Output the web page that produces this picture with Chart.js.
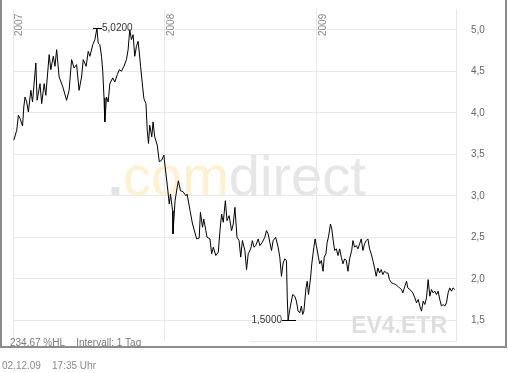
<!DOCTYPE html>
<html><head><meta charset="utf-8">
<style>html,body{margin:0;padding:0;background:#fff;}#wrap{width:508px;height:373px;position:relative;}canvas{display:block;}</style>
<script src="https://cdn.jsdelivr.net/npm/chart.js@4/dist/chart.umd.min.js"></script>
</head><body><div id="wrap"><canvas id="c" width="508" height="373"></canvas></div>
<script>
// days since 01.01.2007
const days = [2,9,13,17,23,26,29,33,37,43,47,55,58,65,69,75,79,87,91,97,101,105,111,120,129,135,141,147,153,159,165,169,176,181,185,192,197,202,205,209,213,216,219,221,225,229,233,240,245,251,256,261,267,273,277,281,285,289,293,297,301,304,307,312,315,320,323,326,329,334,337,341,347,352,358,363,366,371,376,379,384,385,390,395,398,403,409,416,419,426,432,442,448,451,456,459,464,467,474,478,482,488,494,498,502,506,511,515,520,526,530,534,539,544,548,552,558,562,566,572,576,580,584,590,594,600,606,610,614,618,622,626,632,638,642,646,650,654,658,660,662,666,673,678,682,686,690,694,697,700,705,708,711,716,719,724,727,730,735,738,742,746,749,753,756,759,764,767,770,774,778,782,786,790,794,798,802,806,810,815,818,822,826,830,834,838,842,846,850,854,858,862,866,870,874,878,882,886,890,894,899,902,906,911,916,921,926,930,935,938,943,947,950,955,959,962,967,971,975,979,983,987,991,995,999,1003,1007,1011,1015,1019,1023,1027,1031,1035,1039,1043,1047,1051,1055,1059,1063];
const prices = [3.67,3.79,3.97,3.93,3.84,4.07,4.19,4.13,4.01,4.27,4.13,4.60,4.15,4.35,4.11,4.35,4.21,4.70,4.52,4.68,4.56,4.76,4.43,4.31,4.15,4.27,4.64,4.54,4.58,4.27,4.43,4.64,4.56,4.74,4.68,4.82,4.88,5.02,4.84,4.82,4.68,4.50,4.18,3.89,4.19,4.13,4.35,4.42,4.37,4.46,4.52,4.50,4.56,4.64,4.76,5.00,4.88,4.94,4.68,4.80,4.86,4.72,4.56,4.31,4.17,4.11,3.79,3.63,3.85,3.71,3.89,3.71,3.61,3.41,3.43,3.49,3.35,3.14,2.90,3.02,2.82,2.54,2.94,3.10,3.18,3.06,3.05,3.00,3.02,2.82,2.66,2.48,2.49,2.80,2.62,2.72,2.58,2.50,2.48,2.30,2.38,2.28,2.32,2.58,2.78,2.68,2.94,2.70,2.76,2.58,2.66,2.86,2.50,2.46,2.26,2.46,2.34,2.11,2.30,2.36,2.46,2.38,2.40,2.48,2.40,2.44,2.50,2.58,2.54,2.44,2.34,2.46,2.50,2.38,2.26,2.03,2.19,2.24,2.22,1.77,1.50,1.63,1.81,1.79,1.73,1.61,1.59,1.67,1.57,1.61,1.89,1.97,1.81,2.01,2.18,2.38,2.48,2.40,2.26,2.18,2.22,2.09,2.26,2.30,2.44,2.50,2.66,2.60,2.48,2.34,2.36,2.28,2.36,2.26,2.18,2.24,2.22,2.09,2.24,2.34,2.46,2.38,2.40,2.36,2.42,2.48,2.34,2.42,2.46,2.48,2.36,2.30,2.22,2.13,2.03,2.13,2.07,2.11,2.05,2.09,2.07,2.07,1.99,1.95,1.94,1.93,1.91,1.89,1.87,1.83,1.91,1.97,1.89,1.87,1.85,1.83,1.77,1.71,1.75,1.67,1.61,1.73,1.69,1.77,1.99,1.79,1.87,1.83,1.85,1.81,1.85,1.75,1.67,1.69,1.67,1.71,1.83,1.89,1.85,1.89,1.87];
const yearTicks = [0, 365, 731];
const yearLabels = ['2007', '2008', '2009'];
const priceTicks = [1.5, 2.0, 2.5, 3.0, 3.5, 4.0, 4.5, 5.0];
const maxLabel = '5,0200';
const minLabel = '1,5000';
const infoText = '234,67 %HL    Intervall: 1 Tag';
const footerText = '02.12.09    17:35 Uhr';
const symbolText = 'EV4.ETR';

const GRID = '#e8e8e8';
const FONT = 'Arial, "Liberation Sans", sans-serif';

const decor = {
  id: 'decor',
  beforeDraw(chart) {
    const ctx = chart.ctx;
    ctx.save();
    ctx.fillStyle = '#fff';
    ctx.fillRect(0, 0, chart.width, chart.height);
    ctx.fillStyle = '#8c8c8c';
    ctx.fillRect(0, 0, 2, 348);
    ctx.fillRect(505, 0, 2, 348);
    ctx.fillRect(0, 346, 507, 2);
    ctx.restore();
  },
  beforeDatasetsDraw(chart) {
    const ctx = chart.ctx, a = chart.chartArea;
    ctx.save();
    // watermark
    ctx.font = 'bold 54px ' + FONT;
    ctx.textBaseline = 'alphabetic';
    ctx.textAlign = 'left';
    let x = a.left + 95, y = 195;
    ctx.fillStyle = '#e4e4e4';
    ctx.fillText('.', x, y);
    x += ctx.measureText('.').width;
    ctx.font = '56px ' + FONT;
    ctx.fillStyle = '#fdf1cf';
    ctx.fillText('com', x, y);
    x += ctx.measureText('com').width;
    ctx.fillStyle = '#e6e6e6';
    ctx.fillText('direct', x, y);
    // symbol
    ctx.font = 'bold 23px ' + FONT;
    ctx.fillStyle = '#dedede';
    ctx.textAlign = 'right';
    ctx.fillText(symbolText, a.right - 9, a.bottom - 8);
    // bottom border (right part)
    ctx.fillStyle = GRID;
    ctx.fillRect(a.left + 237, a.bottom, a.right - a.left - 237, 1);
    // year labels
    const xs = chart.scales.x;
    ctx.font = '10px ' + FONT;
    ctx.fillStyle = '#8a8a8a';
    yearTicks.forEach((d, i) => {
      const px = xs.getPixelForValue(d);
      ctx.save();
      ctx.translate(px + 1.5, a.top + 27);
      ctx.rotate(-Math.PI / 2);
      ctx.textAlign = 'left';
      ctx.textBaseline = 'top';
      ctx.fillText(yearLabels[i], 0, 0);
      ctx.restore();
    });
    ctx.textAlign = 'left';
    ctx.textBaseline = 'middle';
    ctx.fillStyle = '#7a7a7a';
    ctx.fillText(infoText, 10, 343);
    ctx.fillStyle = '#8a8a8a';
    ctx.fillText(footerText, 2, 366);
    ctx.restore();
  },
  afterDatasetsDraw(chart) {
    const ctx = chart.ctx;
    const xs = chart.scales.x, ys = chart.scales.y;
    let iMax = 0, iMin = 0;
    prices.forEach((v, i) => { if (v > prices[iMax]) iMax = i; if (v < prices[iMin]) iMin = i; });
    ctx.save();
    ctx.font = '10px ' + FONT;
    ctx.fillStyle = '#333';
    ctx.strokeStyle = '#000';
    ctx.lineWidth = 1;
    ctx.textBaseline = 'middle';
    let px = Math.round(xs.getPixelForValue(days[iMax])), py = Math.round(ys.getPixelForValue(prices[iMax])) + 0.5;
    ctx.beginPath(); ctx.moveTo(px - 4, py); ctx.lineTo(px + 5, py); ctx.stroke();
    ctx.textAlign = 'left';
    ctx.fillText(maxLabel, px + 5, py);
    px = Math.round(xs.getPixelForValue(days[iMin])); py = Math.round(ys.getPixelForValue(prices[iMin])) + 0.5;
    ctx.beginPath(); ctx.moveTo(px - 6, py); ctx.lineTo(px + 8, py); ctx.stroke();
    ctx.textAlign = 'right';
    ctx.fillText(minLabel, px - 6, py);
    ctx.restore();
  }
};

new Chart(document.getElementById('c'), {
  type: 'line',
  data: {
    datasets: [{
      data: days.map((d, i) => ({ x: d, y: prices[i] })),
      borderColor: '#000',
      borderWidth: 1,
      pointRadius: 0,
      tension: 0,
      fill: false
    }]
  },
  options: {
    responsive: false,
    animation: false,
    devicePixelRatio: 1,
    layout: { padding: { left: 13, top: 9, right: 0, bottom: 32 } },
    plugins: { legend: { display: false }, tooltip: { enabled: false } },
    scales: {
      x: {
        type: 'linear', min: 0, max: 1066,
        afterBuildTicks: s => { s.ticks = yearTicks.map(v => ({ value: v })); },
        afterFit: s => { s.height = 0; s.paddingLeft = 0; s.paddingRight = 0; },
        ticks: { display: false },
        grid: { color: GRID, drawTicks: false, tickLength: 0 },
        border: { display: false }
      },
      y: {
        position: 'right', min: 1.25, max: 5.25,
        afterBuildTicks: s => { s.ticks = priceTicks.map(v => ({ value: v })); },
        afterFit: s => { s.width = 52; s.paddingTop = 0; s.paddingBottom = 0; },
        ticks: {
          padding: 15, color: '#666', font: { family: FONT, size: 10 },
          callback: v => v.toFixed(1).replace('.', ',')
        },
        grid: { color: GRID, drawTicks: false, tickLength: 0 },
        border: { display: true, color: GRID }
      }
    }
  },
  plugins: [decor]
});
</script></body></html>
